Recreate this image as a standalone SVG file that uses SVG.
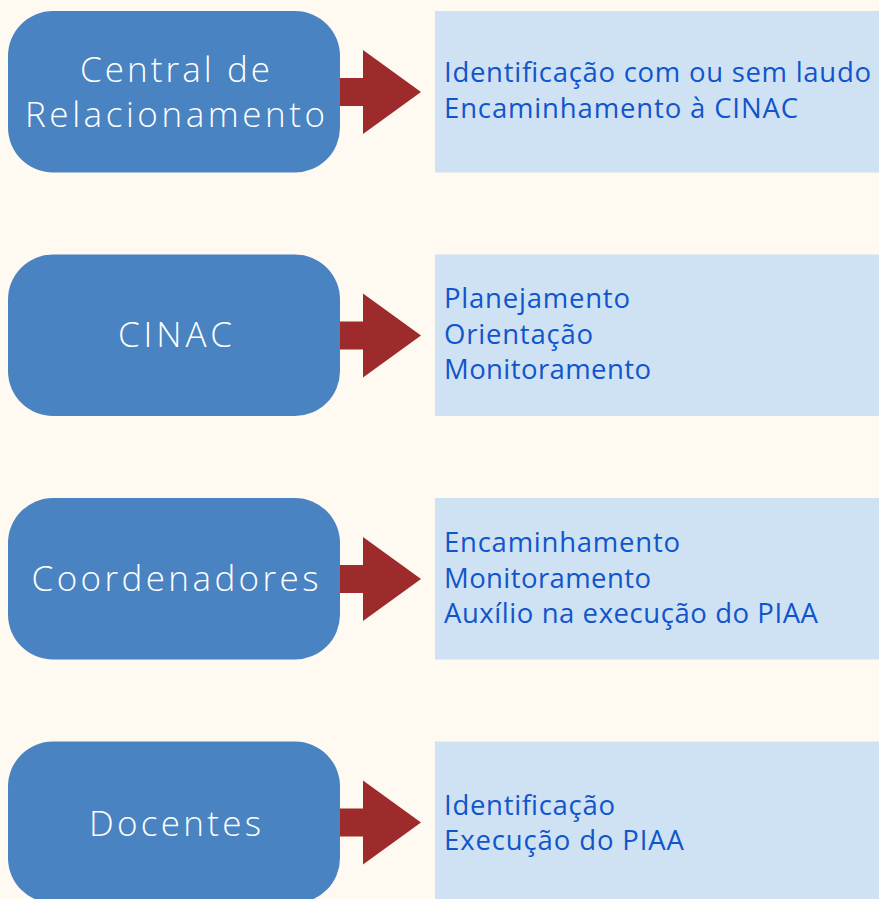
<svg xmlns="http://www.w3.org/2000/svg" width="879" height="899" viewBox="0 0 879 899">
<style>
.node{fill:#4a83c1}
.ntxt{fill:#ffffff;font-family:"Open Sans","Liberation Sans",sans-serif;font-size:35px;font-weight:300;text-anchor:middle}
.box{fill:#cfe2f3}
.btxt{fill:#1155cc;font-family:"Open Sans","Liberation Sans",sans-serif;font-size:27.5px}
.arrow{fill:#9e2b2b}
</style>
<defs>
<path id="arr" d="M338 78 H363 V50 L421 92 L363 134 V106 H338 Z"/>
</defs>
<rect width="879" height="899" fill="#fef9f1"/>
<g id="connectors">
<use href="#arr" class="arrow"/>
<use href="#arr" class="arrow" y="243.5"/>
<use href="#arr" class="arrow" y="487"/>
<use href="#arr" class="arrow" y="730.5"/>
</g>
<g id="node-central">
<rect class="node" x="8" y="11" width="332" height="161.5" rx="45"/>
<text class="ntxt" x="175" y="82" textLength="190">Central de</text>
<text class="ntxt" x="175" y="127" textLength="300">Relacionamento</text>
</g>
<g id="box-central">
<rect class="box" x="435" y="11" width="450" height="161.5"/>
<text class="btxt" x="444" y="82" textLength="427">Identificação com ou sem laudo</text>
<text class="btxt" x="444" y="118" textLength="354">Encaminhamento à CINAC</text>
</g>
<g id="node-cinac">
<rect class="node" x="8" y="254.5" width="332" height="161.5" rx="45"/>
<text class="ntxt" x="175" y="347" textLength="114">CINAC</text>
</g>
<g id="box-cinac">
<rect class="box" x="435" y="254.5" width="450" height="161.5"/>
<text class="btxt" x="444" y="308" textLength="186">Planejamento</text>
<text class="btxt" x="444" y="344" textLength="149">Orientação</text>
<text class="btxt" x="444" y="379" textLength="207">Monitoramento</text>
</g>
<g id="node-coord">
<rect class="node" x="8" y="498" width="332" height="161.5" rx="45"/>
<text class="ntxt" x="175" y="591" textLength="287">Coordenadores</text>
</g>
<g id="box-coord">
<rect class="box" x="435" y="498" width="450" height="161.5"/>
<text class="btxt" x="444" y="552" textLength="236">Encaminhamento</text>
<text class="btxt" x="444" y="588" textLength="207">Monitoramento</text>
<text class="btxt" x="444" y="623" textLength="374">Auxílio na execução do PIAA</text>
</g>
<g id="node-docentes">
<rect class="node" x="8" y="741.5" width="332" height="161.5" rx="45"/>
<text class="ntxt" x="175" y="836" textLength="172">Docentes</text>
</g>
<g id="box-docentes">
<rect class="box" x="435" y="741.5" width="450" height="161.5"/>
<text class="btxt" x="444" y="815" textLength="171">Identificação</text>
<text class="btxt" x="444" y="850" textLength="240">Execução do PIAA</text>
</g>
</svg>
